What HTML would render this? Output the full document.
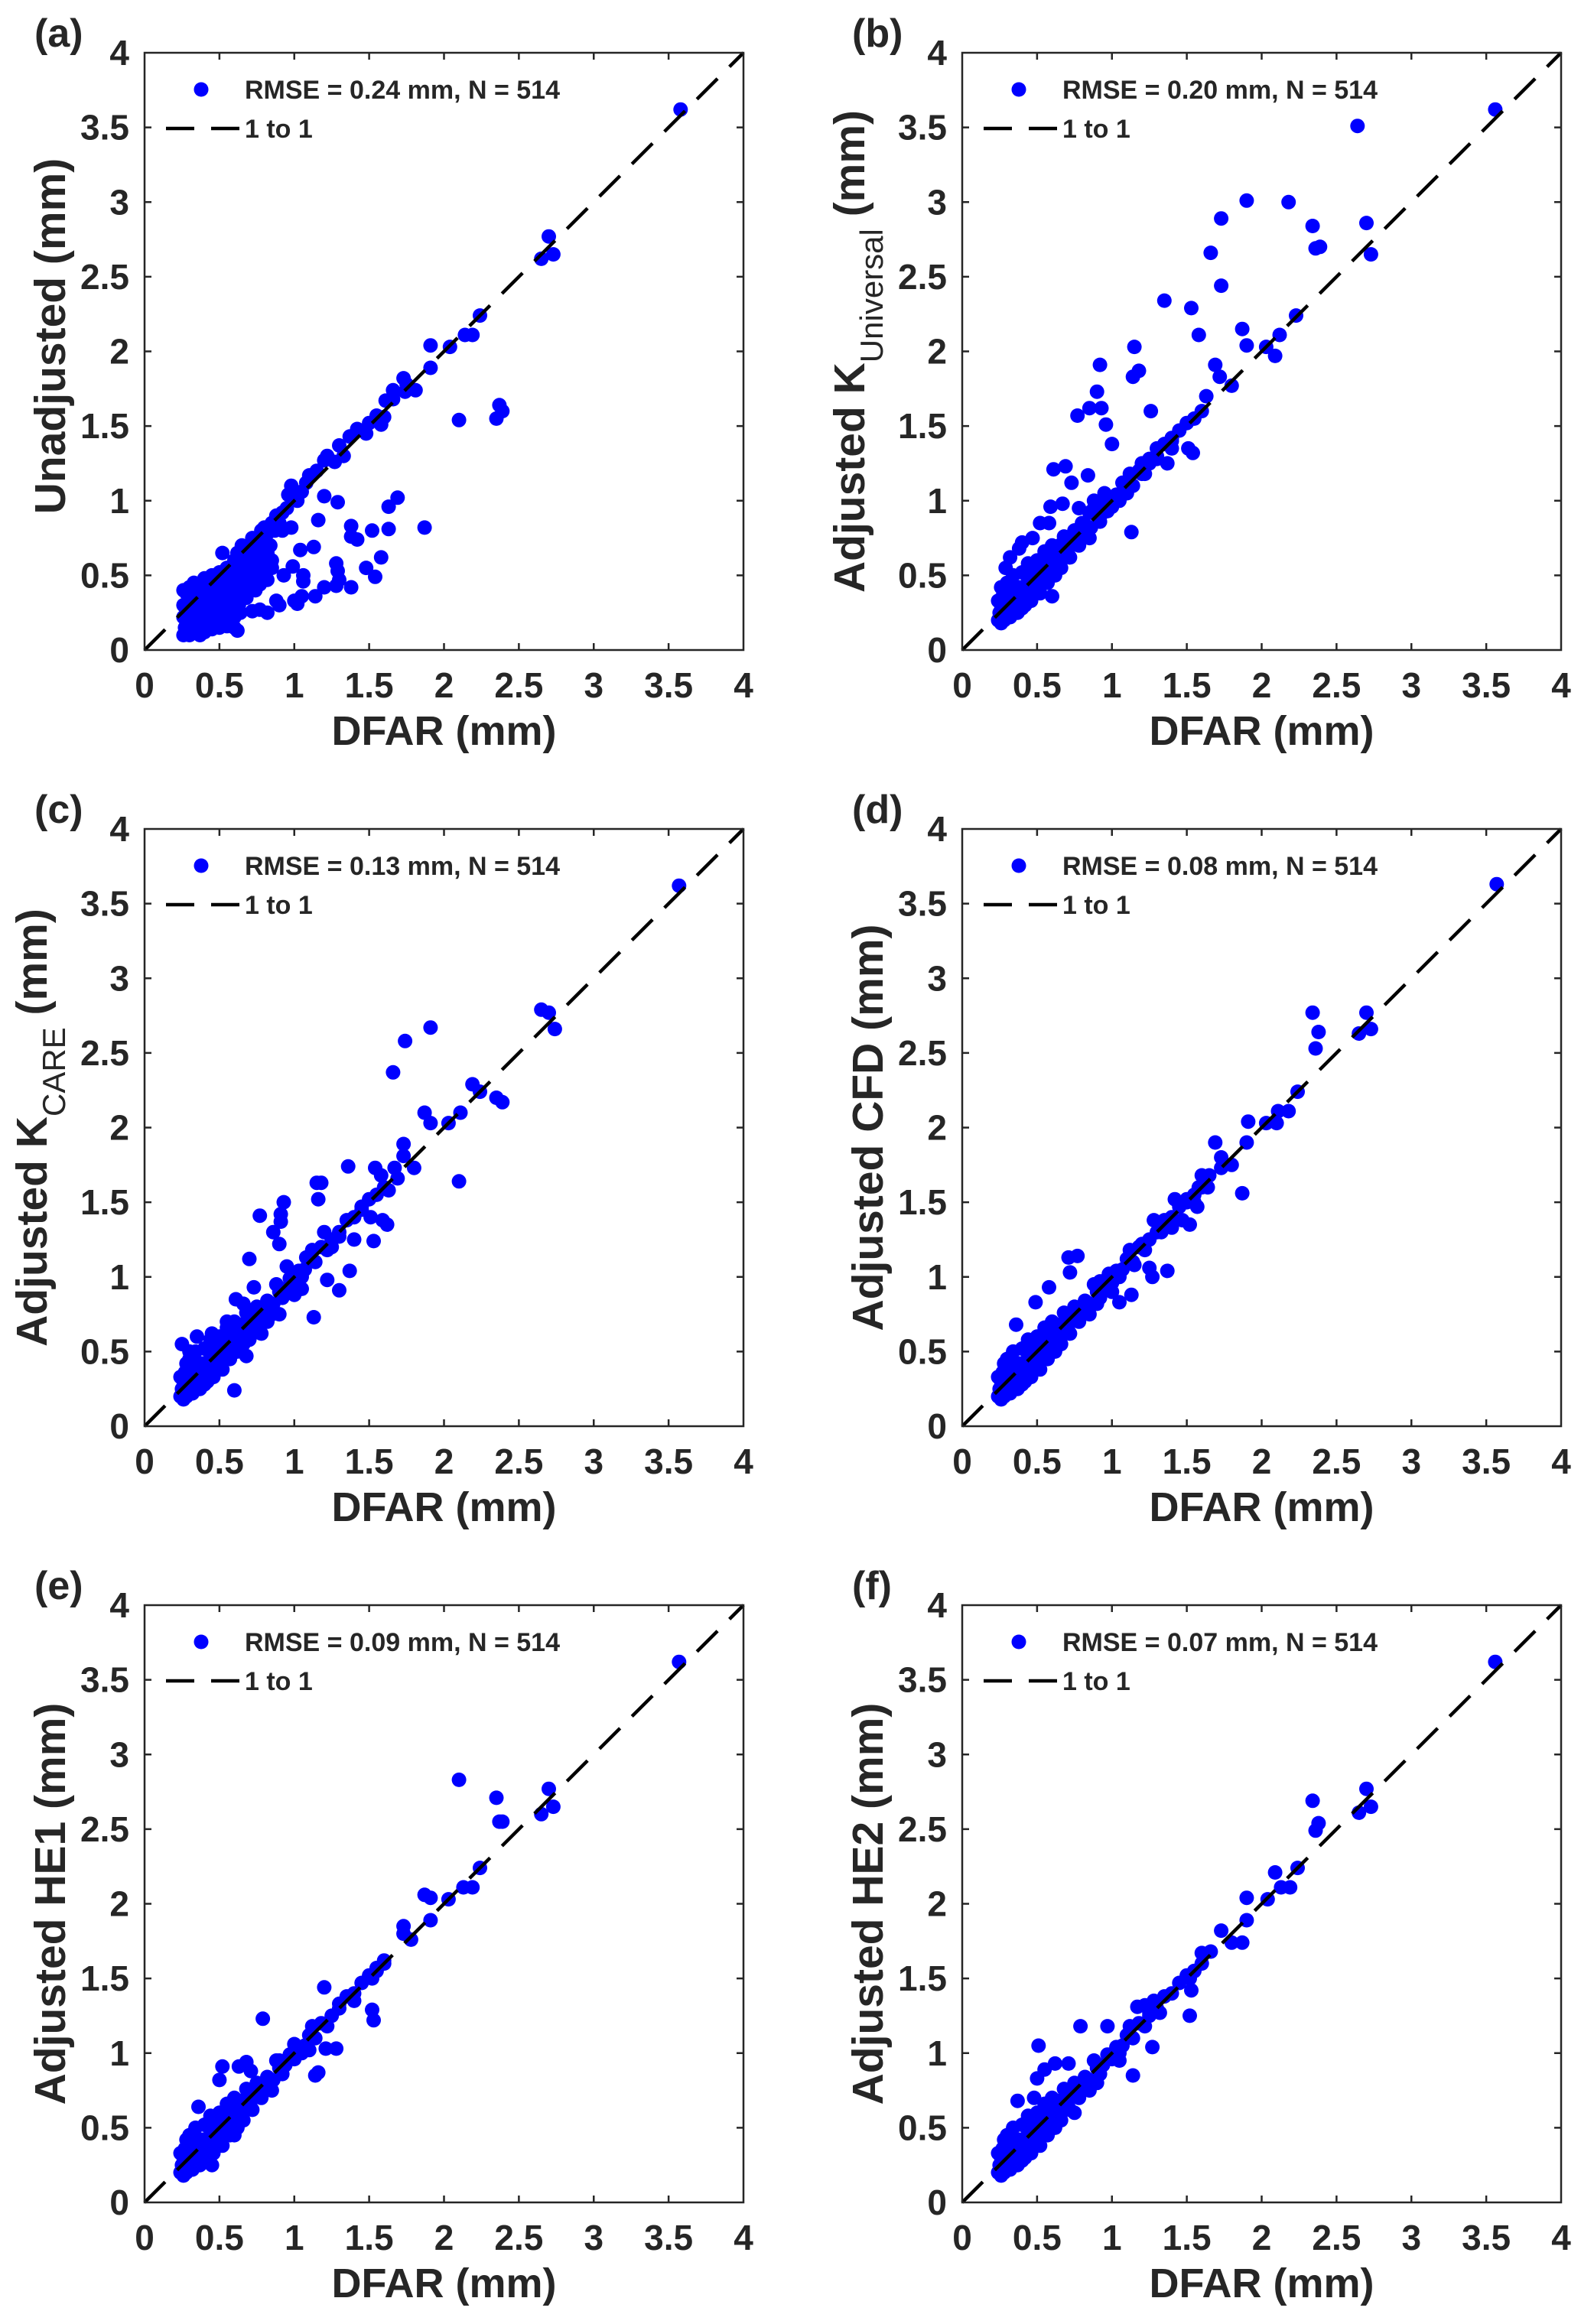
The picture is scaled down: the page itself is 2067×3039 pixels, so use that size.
<!DOCTYPE html>
<html><head><meta charset="utf-8">
<style>
html,body{margin:0;padding:0;background:#fff;}
svg{display:block;}
text{font-family:"Liberation Sans",Arial,sans-serif;fill:#262626;font-weight:bold;}
</style></head>
<body>
<svg id="fig" width="2067" height="3039" viewBox="0 0 2067 3039" xmlns="http://www.w3.org/2000/svg"></svg>
<script>
// ---- data ----
const axisTicks = [0, 0.5, 1, 1.5, 2, 2.5, 3, 3.5, 4];
const tickLabels = ["0","0.5","1","1.5","2","2.5","3","3.5","4"];
const panelLetters = ["(a)","(b)","(c)","(d)","(e)","(f)"];
const rmseValues = ["0.24","0.20","0.13","0.08","0.09","0.07"];
const sampleCount = 514;

// shared dense band near the 1:1 line (DFAR, adjusted)
const bandCluster = [[0.24,0.2],[0.25,0.25],[0.26,0.3],[0.24,0.33],[0.27,0.36],[0.3,0.22],[0.32,0.27],[0.3,0.33],[0.33,0.4],[0.35,0.3],[0.36,0.36],[0.38,0.42],[0.4,0.35],[0.42,0.4],[0.44,0.46],[0.45,0.38],[0.48,0.44],[0.5,0.5],[0.52,0.47],[0.55,0.55],[0.58,0.52],[0.6,0.6],[0.62,0.56],[0.65,0.65],[0.68,0.62],[0.7,0.72],[0.73,0.7],[0.76,0.78],[0.8,0.76],[0.82,0.84],[0.86,0.82],[0.9,0.9],[0.94,0.92],[0.97,0.99],[1.0,0.96],[1.03,1.04],[1.07,1.05],[1.1,1.12],[1.14,1.1],[1.18,1.2],[1.22,1.18],[0.28,0.42],[0.3,0.45],[0.34,0.5],[0.4,0.52],[0.44,0.58],[0.5,0.6],[0.55,0.66],[0.6,0.7],[0.4,0.28],[0.46,0.33],[0.52,0.38],[0.57,0.45],[0.62,0.5],[0.66,0.55],[0.72,0.62],[0.78,0.7],[0.85,0.75],[0.27,0.24],[0.29,0.28],[0.33,0.33],[0.37,0.25],[0.43,0.35],[0.48,0.52],[0.53,0.58],[0.64,0.68],[0.68,0.76],[0.75,0.8],[0.88,0.95],[0.92,0.86],[1.05,1.0],[1.12,1.18],[1.25,1.25],[1.3,1.3],[1.35,1.38],[1.4,1.4],[1.45,1.47],[1.5,1.52],[1.55,1.55],[1.6,1.6],[0.26,0.18],[0.28,0.2],[0.32,0.22],[0.35,0.4],[0.38,0.32],[0.42,0.3],[0.46,0.42],[0.5,0.4],[0.54,0.5],[0.58,0.62]];

const pointsA = [[3.58,3.62],[2.70,2.77],[2.65,2.62],[2.73,2.65],[2.24,2.24],[2.14,2.11],[2.19,2.11],[2.04,2.03],[1.91,2.04],[1.91,1.89],[1.73,1.82],[1.75,1.78],[1.81,1.74],[1.66,1.74],[1.74,1.73],[1.61,1.67],[1.66,1.68],[1.6,1.56],[1.55,1.57],[1.58,1.51],[1.5,1.52],[1.48,1.45],[1.42,1.48],[1.37,1.43],[1.3,1.37],[1.33,1.3],[1.22,1.3],[1.27,1.26],[1.2,1.27],[1.15,1.2],[1.1,1.17],[1.08,1.12],[1.05,1.06],[0.96,1.04],[0.98,1.1],[1.02,1.0],[2.1,1.54],[2.35,1.55],[2.37,1.64],[2.39,1.6],[1.87,0.82],[1.69,1.02],[1.63,0.96],[1.63,0.81],[1.52,0.8],[1.38,0.83],[1.38,0.76],[1.42,0.74],[1.58,0.62],[1.54,0.49],[1.48,0.55],[1.28,0.58],[1.29,0.53],[1.3,0.47],[1.28,0.43],[1.38,0.42],[1.2,0.42],[1.14,0.36],[1.05,0.36],[1.0,0.33],[1.02,0.31],[0.88,0.33],[0.9,0.3],[0.82,0.25],[0.72,0.26],[0.77,0.27],[1.29,0.99],[1.2,1.03],[1.16,0.87],[1.13,0.69],[1.04,0.67],[1.06,0.5],[1.06,0.46],[0.99,0.56],[0.93,0.5],[0.98,0.82],[0.92,0.8],[0.85,0.6],[0.82,0.47],[0.77,0.44],[0.7,0.4],[0.26,0.1],[0.3,0.1],[0.35,0.12],[0.4,0.12],[0.45,0.14],[0.5,0.15],[0.55,0.16],[0.6,0.15],[0.27,0.15],[0.3,0.2],[0.35,0.2],[0.4,0.2],[0.45,0.22],[0.5,0.22],[0.55,0.25],[0.6,0.22],[0.63,0.3],[0.26,0.22],[0.26,0.3],[0.3,0.3],[0.35,0.3],[0.4,0.3],[0.45,0.3],[0.5,0.3],[0.55,0.33],[0.6,0.35],[0.65,0.38],[0.28,0.38],[0.32,0.4],[0.36,0.42],[0.4,0.4],[0.45,0.42],[0.5,0.4],[0.55,0.45],[0.6,0.42],[0.4,0.48],[0.45,0.5],[0.5,0.52],[0.55,0.55],[0.6,0.6],[0.52,0.65],[0.62,0.65],[0.68,0.45],[0.7,0.5],[0.72,0.58],[0.75,0.62],[0.7,0.68],[0.65,0.7],[0.72,0.75],[0.78,0.8],[0.8,0.72],[0.82,0.65],[0.78,0.55],[0.85,0.85],[0.88,0.9],[0.9,0.85],[0.92,0.92],[0.95,0.95],[0.8,0.6],[0.85,0.55],[0.75,0.5],[0.65,0.55],[0.68,0.62],[0.58,0.5],[0.62,0.48],[0.7,0.4],[0.68,0.35],[0.75,0.45],[0.8,0.5],[0.26,0.4],[0.3,0.42],[0.33,0.16],[0.38,0.16],[0.62,0.13],[0.28,0.12],[0.32,0.14],[0.37,0.1],[0.42,0.16],[0.47,0.18],[0.52,0.18],[0.57,0.2],[0.28,0.26],[0.33,0.25],[0.38,0.24],[0.43,0.26],[0.48,0.26],[0.53,0.28],[0.58,0.28],[0.3,0.35],[0.35,0.35],[0.42,0.35],[0.47,0.36],[0.52,0.35],[0.57,0.38],[0.62,0.4],[0.33,0.45],[0.38,0.45],[0.43,0.46],[0.48,0.46],[0.53,0.48],[0.58,0.55],[0.63,0.55],[0.66,0.6],[0.7,0.62],[0.74,0.7],[0.76,0.75],[0.8,0.82],[0.82,0.78],[0.66,0.45],[0.72,0.52],[0.74,0.4],[0.78,0.64],[0.84,0.7],[0.87,0.8],[0.3,0.26],[0.34,0.36],[0.64,0.25],[0.58,0.18]];

const pointsB = [[3.56,3.62],[2.64,3.51],[1.90,3.01],[2.18,3.0],[1.73,2.89],[2.34,2.84],[2.36,2.69],[2.39,2.70],[2.70,2.86],[2.73,2.65],[1.66,2.66],[1.73,2.44],[1.35,2.34],[1.53,2.29],[1.58,2.11],[1.87,2.15],[2.23,2.24],[2.12,2.11],[1.90,2.04],[2.03,2.03],[2.09,1.97],[1.15,2.03],[0.92,1.91],[1.18,1.87],[1.14,1.83],[1.69,1.91],[1.72,1.83],[1.80,1.77],[0.90,1.73],[0.85,1.62],[0.93,1.62],[0.77,1.57],[0.96,1.51],[1.26,1.6],[1.0,1.38],[1.37,1.25],[1.51,1.35],[1.54,1.32],[1.13,0.79],[0.61,1.21],[0.69,1.23],[0.73,1.12],[0.84,1.17],[0.67,0.98],[0.59,0.96],[0.6,0.36],[1.0,1.0],[1.1,1.05],[1.2,1.18],[1.3,1.28],[1.4,1.42],[1.63,1.7],[1.4,1.35],[1.3,1.35],[1.25,1.28],[1.2,1.25],[1.07,1.12],[0.95,1.05],[0.85,0.92],[0.8,0.85],[0.75,0.8],[0.9,0.95],[0.88,1.0],[0.78,0.95],[0.97,0.93],[0.29,0.55],[0.32,0.62],[0.38,0.68],[0.4,0.72],[0.47,0.75],[0.52,0.85],[0.58,0.85],[0.65,0.7],[0.7,0.66],[0.26,0.42],[0.48,0.55],[0.43,0.52]].concat(bandCluster);

const pointsC = [[3.57,3.62],[2.65,2.79],[2.70,2.77],[2.74,2.66],[1.91,2.67],[1.74,2.58],[1.66,2.37],[2.19,2.29],[2.24,2.24],[2.35,2.2],[2.39,2.17],[1.87,2.10],[1.91,2.03],[2.03,2.03],[2.11,2.10],[2.10,1.64],[1.73,1.89],[1.73,1.81],[1.36,1.74],[1.54,1.73],[1.58,1.68],[1.67,1.73],[1.80,1.73],[1.69,1.66],[1.63,1.58],[1.15,1.63],[1.18,1.63],[1.16,1.52],[0.93,1.5],[0.91,1.42],[0.91,1.37],[0.77,1.41],[0.86,1.3],[0.9,1.22],[1.51,1.4],[1.59,1.38],[1.62,1.35],[1.53,1.24],[1.4,1.25],[1.22,0.98],[1.30,0.91],[1.37,1.04],[1.13,0.73],[0.70,1.12],[0.61,0.85],[0.73,0.93],[0.66,0.82],[0.60,0.24],[0.68,0.47],[1.0,0.88],[1.05,0.92],[0.95,1.07],[1.08,1.13],[1.25,1.2],[1.2,1.3],[1.3,1.27],[1.45,1.45],[0.82,0.7],[0.9,0.75],[0.78,0.62],[0.7,0.58],[0.25,0.55],[0.3,0.5],[0.35,0.6],[0.45,0.62],[0.55,0.7]].concat(bandCluster);

const pointsD = [[3.57,3.63],[2.34,2.77],[2.38,2.64],[2.36,2.53],[2.65,2.63],[2.70,2.77],[2.73,2.66],[2.24,2.24],[2.18,2.11],[2.11,2.11],[1.91,2.04],[2.03,2.03],[2.10,2.03],[1.90,1.90],[1.87,1.56],[1.69,1.9],[1.73,1.8],[1.80,1.75],[1.73,1.73],[1.60,1.68],[1.65,1.68],[1.58,1.6],[1.64,1.6],[1.55,1.5],[1.5,1.5],[1.57,1.47],[1.42,1.52],[1.47,1.38],[1.52,1.35],[1.28,1.38],[1.2,1.22],[0.71,1.13],[0.77,1.14],[0.72,1.03],[0.58,0.93],[0.49,0.83],[0.36,0.68],[1.37,1.04],[1.27,1.0],[1.25,1.06],[1.13,0.88],[1.05,0.83],[1.0,0.9],[0.9,0.82],[0.92,0.97],[0.98,1.02],[1.15,1.08],[1.33,1.3],[1.4,1.33]].concat(bandCluster);

const pointsE = [[3.57,3.62],[2.10,2.83],[2.35,2.71],[2.37,2.55],[2.39,2.55],[2.65,2.6],[2.70,2.77],[2.73,2.65],[2.24,2.24],[2.13,2.11],[2.19,2.11],[1.87,2.06],[1.91,2.04],[2.03,2.03],[1.91,1.89],[1.73,1.8],[1.78,1.76],[1.73,1.85],[1.55,1.57],[1.52,1.5],[1.6,1.62],[1.20,1.44],[1.52,1.29],[1.53,1.22],[1.21,1.03],[1.28,1.03],[1.14,0.85],[1.16,0.87],[0.79,1.23],[0.52,0.91],[0.50,0.82],[0.63,0.91],[0.36,0.64],[0.71,0.88],[0.68,0.94],[0.9,0.95],[1.0,1.06],[1.1,1.02],[1.3,1.33],[1.4,1.35],[0.6,0.45],[0.45,0.25]].concat(bandCluster);

const pointsF = [[3.56,3.62],[2.34,2.69],[2.38,2.54],[2.36,2.49],[2.65,2.61],[2.70,2.77],[2.73,2.65],[2.09,2.21],[2.24,2.24],[2.13,2.11],[2.19,2.11],[1.90,2.04],[2.04,2.03],[1.90,1.89],[1.73,1.82],[1.80,1.74],[1.87,1.74],[1.60,1.67],[1.66,1.68],[1.55,1.55],[1.52,1.5],[1.53,1.42],[1.52,1.25],[1.28,1.35],[1.25,1.27],[1.32,1.27],[1.27,1.04],[1.14,0.85],[0.79,1.18],[0.51,1.05],[0.50,0.83],[0.55,0.89],[0.62,0.93],[0.71,0.93],[0.37,0.68],[0.48,0.7],[0.97,1.18],[1.17,1.31],[1.22,1.32],[1.05,0.95],[0.9,0.8],[0.75,0.6]].concat(bandCluster);

const panelPoints = [pointsA, pointsB, pointsC, pointsD, pointsE, pointsF];
const yTitles = [["Unadjusted (mm)",""],["Adjusted K","Universal"],["Adjusted K","CARE"],["Adjusted CFD (mm)",""],["Adjusted HE1 (mm)",""],["Adjusted HE2 (mm)",""]];

// ---- layout ----
const SVGNS = "http://www.w3.org/2000/svg";
const svg = document.getElementById("fig");
const W = 783, H = 781;
const lefts = [189, 1258];
const tops = [69, 1084, 2099];
function mk(tag, attrs, parent){ const e=document.createElementNS(SVGNS,tag); for(const k in attrs) e.setAttribute(k,attrs[k]); (parent||svg).appendChild(e); return e; }

panelLetters.forEach((letter, i) => {
  const L = lefts[i%2], T = tops[Math.floor(i/2)];
  const sx = v => L + v/4*W;
  const sy = v => T + H - v/4*H;
  const g = mk("g", {});
  
  

  const pg = mk("g", {fill:"#0000ff"}, g);
  
  
  panelPoints[i].forEach(p => {
    const c = mk("circle", {cx:sx(p[0]).toFixed(1), cy:sy(p[1]).toFixed(1), r:9.5}, pg);
    
    
  });

  const ln = mk("line", {x1:sx(0), y1:sy(0), x2:sx(4), y2:sy(4), stroke:"#000", "stroke-width":4.5, "stroke-dasharray":"38 22"}, g);
  
  

  const fr = mk("rect", {x:L, y:T, width:W, height:H, fill:"none", stroke:"#262626", "stroke-width":2.5}, g);
  
  

  axisTicks.forEach((t, k) => {
    const x = sx(t), y = sy(t);
    if (k>0 && k<axisTicks.length-1) {
      mk("line",{x1:x,y1:T+H,x2:x,y2:T+H-9,stroke:"#262626","stroke-width":2.5},g);
      mk("line",{x1:x,y1:T,x2:x,y2:T+9,stroke:"#262626","stroke-width":2.5},g);
      mk("line",{x1:L,y1:y,x2:L+9,y2:y,stroke:"#262626","stroke-width":2.5},g);
      mk("line",{x1:L+W,y1:y,x2:L+W-9,y2:y,stroke:"#262626","stroke-width":2.5},g);
    }
    const xl = mk("text",{x:x, y:T+H+62, "text-anchor":"middle", "font-size":46},g);
    xl.textContent = tickLabels[k];
    
    
    const yl = mk("text",{x:L-20, y:y+16, "text-anchor":"end", "font-size":46},g);
    yl.textContent = tickLabels[k];
    
    
  });

  const xt = mk("text",{x:L+W/2, y:T+H+124, "text-anchor":"middle", "font-size":54},g);
  xt.textContent = "DFAR (mm)";
  
  

  const yt = yTitles[i];
  const cx = L - (yt[1] ? 128 : 104), cy = T + H/2 - (i===0 ? 20 : 0);
  const ytxt = mk("text",{x:0, y:0, "text-anchor":"middle", "font-size":57, transform:`translate(${cx},${cy}) rotate(-90)`},g);
  
  
  if (yt[1]) {
    const a = mk("tspan",{},ytxt); a.textContent = yt[0];
    const b = mk("tspan",{dy:24, "font-size":42, "font-weight":"normal"},ytxt); b.textContent = yt[1];
    const c = mk("tspan",{dy:-24},ytxt); c.textContent = " (mm)";
  } else {
    ytxt.textContent = yt[0];
  }

  const pl = mk("text",{x:L-144, y:T-8, "font-size":52},g);
  pl.textContent = letter;
  
  

  const lg = mk("g",{},g);
  
  
  const ld = mk("circle",{cx:L+74, cy:T+48, r:9.5, fill:"#0000ff"},lg);
  
  
  const lt1 = mk("text",{x:L+131, y:T+60, "font-size":34},lg);
  lt1.textContent = "RMSE = " + rmseValues[i] + " mm, N = " + sampleCount;
  
  
  const ll = mk("line",{x1:L+28, y1:T+99, x2:L+125, y2:T+99, stroke:"#000", "stroke-width":4.5, "stroke-dasharray":"37 22"},lg);
  
  
  const lt2 = mk("text",{x:L+131, y:T+111, "font-size":34},lg);
  lt2.textContent = "1 to 1";
  
  
});
</script>
</body></html>
